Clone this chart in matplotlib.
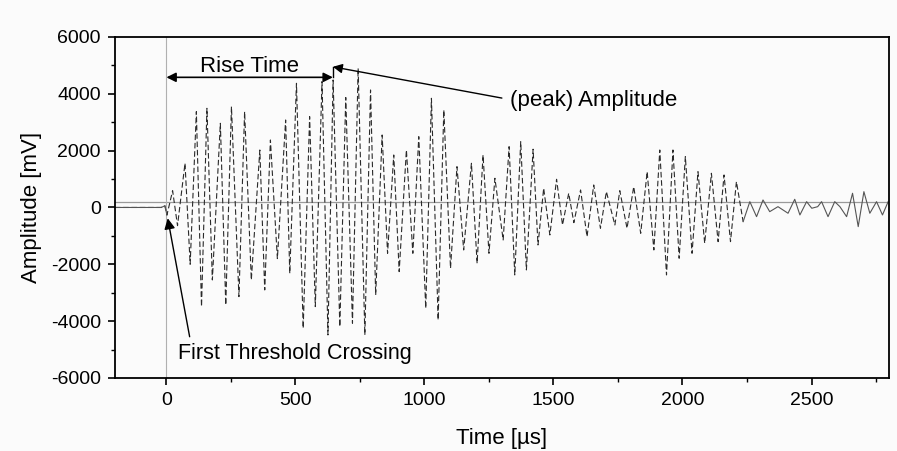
import matplotlib
matplotlib.use("Agg")
import matplotlib.pyplot as plt
import numpy as np
from matplotlib.ticker import MultipleLocator

plt.rcParams["font.family"] = ["Liberation Sans", "DejaVu Sans"]
plt.rcParams["axes.unicode_minus"] = False

# ---- data (turning points of the waveform) ----
time_us = [-200, -20, -6, 2, 24, 43, 72, 92, 116, 136, 157, 178, 209, 230, 252, 281,
           303, 329, 362, 381, 403, 430, 462, 478, 504, 530, 555, 577, 603, 626, 646,
           672, 695, 721, 743, 769, 791, 811, 836, 857, 881, 902, 930, 955, 978, 1005,
           1027, 1053, 1075, 1101, 1126, 1152, 1182, 1204, 1227, 1250, 1273, 1305,
           1328, 1350, 1373, 1395, 1421, 1440, 1462, 1486, 1512, 1535, 1559, 1579,
           1605, 1630, 1656, 1682, 1705, 1738, 1757, 1785, 1811, 1838, 1863, 1889,
           1912, 1938, 1963, 1987, 2011, 2037, 2060, 2086, 2112, 2138, 2161, 2186,
           2209, 2235, 2261, 2287, 2312, 2338, 2370, 2409, 2435, 2455, 2481, 2501,
           2524, 2539, 2564, 2590, 2610, 2636, 2659, 2681, 2703, 2726, 2752, 2775, 2797]
amp_mv = [0, 0, 60, -264, 590, -640, 1555, -2000, 3372, -3490, 3490, -2551, 2962, -3431,
          3549, -3138, 3372, -2551, 2023, -2903, 2375, -1800, 3079, -2320, 4370, -4251,
          3197, -3490, 4430, -4487, 4487, -4194, 3870, -4075, 4898, -4487, 4135, -3079,
          2551, -1613, 1847, -2258, 2023, -1613, 2492, -3548, 3842, -3959, 3431, -2141,
          1436, -1496, 1555, -1965, 1847, -1613, 1027, -1144, 2140, -2375, 2316, -2199,
          2050, -1320, 675, -968, 992, -616, 500, -534, 616, -1027, 792, -732, 556, -616,
          591, -732, 732, -909, 1260, -1496, 2023, -2375, 2023, -1788, 1788, -1613, 1260,
          -1261, 1203, -1203, 1144, -1203, 908, -500, 204, -324, 264, -148, 28, -204, 288,
          -264, 204, -28, 28, 204, -324, 204, 28, -324, 500, -675, 556, -204, 204, -264, 204]
threshold_mv = 200
x_ticks = [0, 500, 1000, 1500, 2000, 2500]
y_ticks = [-6000, -4000, -2000, 0, 2000, 4000, 6000]
rise_start, rise_end = 0, 645
peak_time, peak_amp = 645, 4950

t = np.array(time_us, dtype=float)
a = np.array(amp_mv, dtype=float)

fig = plt.figure(figsize=(8.97, 4.51), dpi=100)
fig.patch.set_facecolor("#fbfbfb")
ax = fig.add_axes([0.128, 0.162, 0.863, 0.756])
ax.set_facecolor("#fbfbfb")

ax.axhline(threshold_mv, color="#9a9a9a", lw=0.9, zorder=1)
ax.axvline(0, color="#b0b0b0", lw=0.8, zorder=1)

dense = t <= 2235
ax.plot(t[dense], a[dense], color="#2a2a2a", lw=0.8, ls=(0, (5, 2.5)), zorder=2)
tail = t >= 2235
ax.plot(t[tail], a[tail], color="#555555", lw=0.8, zorder=2)
pre = t <= 2
ax.plot(t[pre], a[pre], color="#555555", lw=0.8, zorder=2)

ax.set_xlim(-200, 2800)
ax.set_ylim(-6000, 6000)
ax.set_xticks(x_ticks)
ax.set_yticks(y_ticks)
ax.xaxis.set_minor_locator(MultipleLocator(250))
ax.yaxis.set_minor_locator(MultipleLocator(1000))
ax.tick_params(which="major", direction="out", length=5, width=1.2, labelsize=14, pad=5)
ax.tick_params(which="minor", direction="out", length=3, width=1.0)
for s in ax.spines.values():
    s.set_linewidth(1.3)
ax.set_xlabel("Time [µs]", fontsize=16, labelpad=14)
ax.set_ylabel("Amplitude [mV]", fontsize=16, labelpad=6)

# annotations
ax.annotate("", xy=(rise_start, 4580), xytext=(rise_end, 4580),
            arrowprops=dict(arrowstyle="<|-|>", color="black", lw=1.2,
                            mutation_scale=14, shrinkA=0, shrinkB=0))
ax.text((rise_start + rise_end) / 2, 4750, "Rise Time", fontsize=16,
        ha="center", va="baseline")
ax.plot([rise_end, rise_end], [4580, peak_amp], color="black", lw=1.0)
ax.annotate("", xy=(peak_time, peak_amp), xytext=(1300, 3850),
            arrowprops=dict(arrowstyle="-|>", color="black", lw=1.0,
                            mutation_scale=14, shrinkA=0, shrinkB=0))
ax.text(1330, 3750, "(peak) Amplitude", fontsize=16, ha="left", va="center")
ax.annotate("", xy=(5, -380), xytext=(90, -4550),
            arrowprops=dict(arrowstyle="-|>", color="black", lw=1.0,
                            mutation_scale=16, shrinkA=0, shrinkB=0))
ax.text(45, -5150, "First Threshold Crossing", fontsize=15.5, ha="left", va="center")

fig.savefig("out.png", dpi=100, facecolor=fig.get_facecolor())
